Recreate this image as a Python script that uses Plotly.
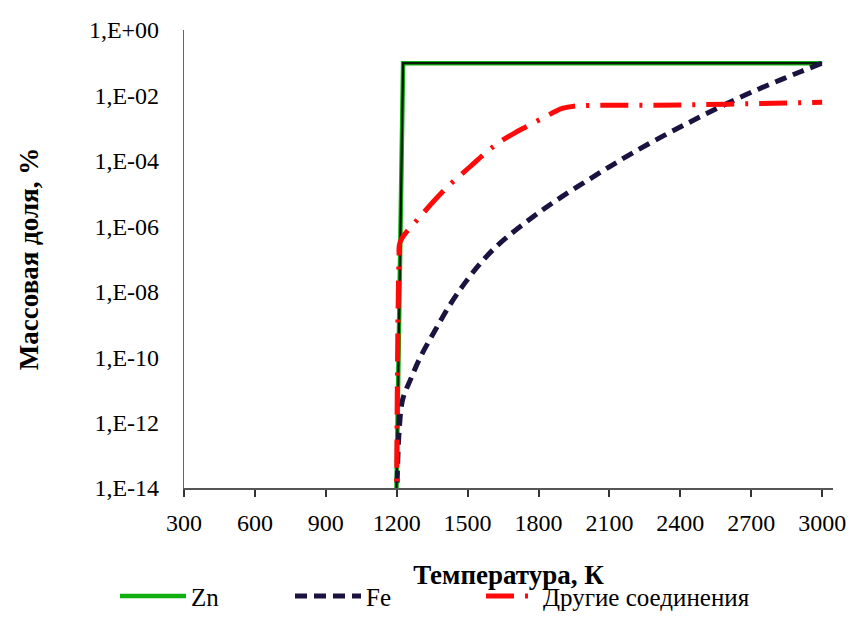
import plotly.graph_objects as go

# Data (temperature, K; mass fraction)
zn_T = [1197, 1227, 3000]
zn_y = [1e-15, 0.097, 0.097]

fe_T = [1199, 1203, 1210, 1225, 1260, 1300, 1365, 1430, 1492, 1550, 1610, 1680, 1760, 1830, 1904,
        2000, 2100, 2200, 2320, 2428, 2520, 2623, 2730, 2834, 2920, 3000]
fe_y = [1e-15, 3e-14, 5e-13, 5.0e-12, 2.2e-11, 1.0e-10, 7.1e-10, 4.5e-09, 2.0e-08, 6.8e-08, 2.0e-07,
        5.6e-07, 1.58e-06, 3.7e-06, 8.5e-06, 2.34e-05, 6.6e-05, 1.78e-04, 5.4e-04, 1.38e-03,
        3.0e-03, 6.9e-03, 1.55e-02, 3.2e-02, 5.75e-02, 0.097]

other_T = [1199, 1210, 1215, 1300, 1411, 1510, 1574, 1629, 1700, 1750, 1827, 1870, 1900, 1950, 2300, 2600, 3000]
other_y = [1e-15, 1e-07, 3.4e-07, 2.0e-06, 1.5e-05, 6.6e-05, 1.7e-04, 3.5e-04, 7.2e-04, 1.12e-03, 2.2e-03,
           3.2e-03, 4.0e-03, 4.7e-03, 5.0e-03, 5.4e-03, 6.2e-03]

x_ticks = [300, 600, 900, 1200, 1500, 1800, 2100, 2400, 2700, 3000]
y_ticks = [1e0, 1e-2, 1e-4, 1e-6, 1e-8, 1e-10, 1e-12, 1e-14]
y_ticktext = ["1,E+00", "1,E-02", "1,E-04", "1,E-06", "1,E-08", "1,E-10", "1,E-12", "1,E-14"]

SERIF = "Liberation Serif"
LEG_FONT = dict(family=SERIF, size=25, color="black")

fig = go.Figure()
fig.add_trace(go.Scatter(x=zn_T, y=zn_y, mode="lines", name="Zn", legend="legend",
                         line=dict(color="#10b010", width=4.5)))
fig.add_trace(go.Scatter(x=zn_T, y=zn_y, mode="lines", name="Zn", showlegend=False,
                         line=dict(color="#0a1a0a", width=2.2), hoverinfo="skip"))
fig.add_trace(go.Scatter(x=fe_T, y=fe_y, mode="lines", name="Fe", line_shape="spline", legend="legend2",
                         line=dict(color="#1c1240", width=5, dash="12px,7px")))
fig.add_trace(go.Scatter(x=other_T, y=other_y, mode="lines", name="Другие соединения", legend="legend3",
                         line_shape="spline",
                         line=dict(color="#ff0a0a", width=5, dash="28px,11px,3px,11px")))

common_leg = dict(orientation="h", xanchor="left", y=-0.2865, yanchor="bottom",
                  font=LEG_FONT, bgcolor="rgba(0,0,0,0)", borderwidth=0)

fig.update_layout(
    width=858, height=619,
    margin=dict(l=184, r=25, t=30, b=131, autoexpand=False),
    plot_bgcolor="white", paper_bgcolor="white",
    font=dict(family=SERIF, color="black", size=24),
    showlegend=True,
    legend=dict(x=-0.1063, itemwidth=66, **common_leg),
    legend2=dict(x=0.1633, itemwidth=66, **common_leg),
    legend3=dict(x=0.4576, itemwidth=52, **common_leg),
)
fig.update_xaxes(range=[300, 3046], tickvals=x_ticks, ticktext=[str(v) for v in x_ticks],
                 showgrid=False, zeroline=False, showline=True, linecolor="#555555", linewidth=1.5,
                 ticks="outside", ticklen=7, tickcolor="#333333", tickwidth=1.5,
                 ticklabelstandoff=5,
                 tickfont=dict(family=SERIF, size=24, color="black"),
                 title=dict(text="<b>Температура, К</b>", standoff=31,
                            font=dict(family=SERIF, size=27, color="black")))
fig.update_yaxes(type="log", range=[-14, 0], tickvals=y_ticks, ticktext=y_ticktext,
                 showgrid=False, zeroline=False, showline=True, linecolor="#666666", linewidth=1.2,
                 ticks="", ticklabelstandoff=19,
                 tickfont=dict(family=SERIF, size=24, color="black"),
                 title=dict(text="<b>Массовая доля, %</b>", standoff=42,
                            font=dict(family=SERIF, size=27, color="black")))

fig.write_html("out.html")
